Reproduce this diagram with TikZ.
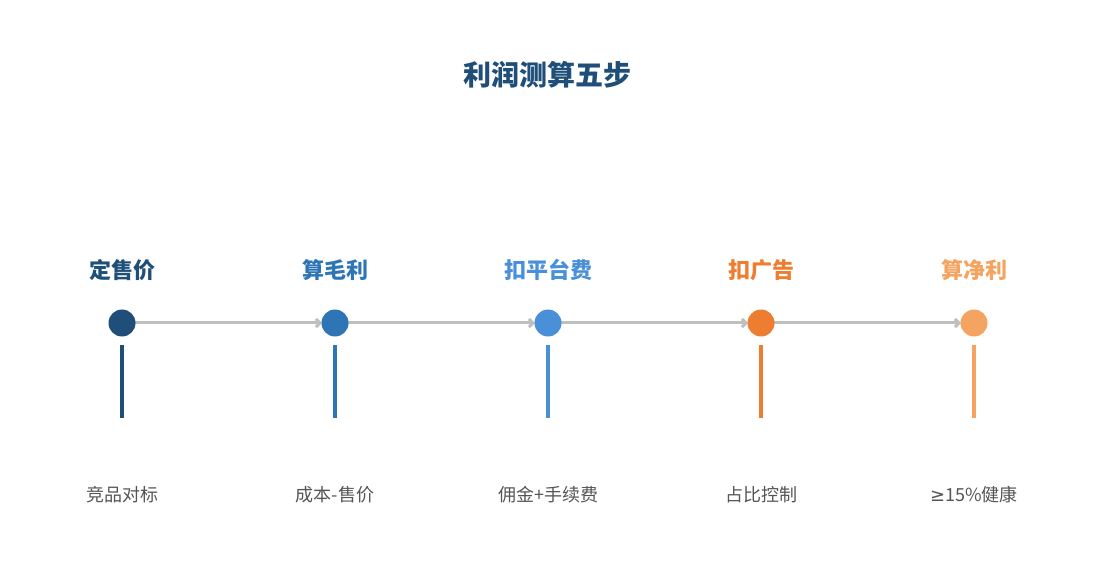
\documentclass[tikz,border=0pt]{standalone}
\usepackage{fontspec}
\setmainfont{Noto Sans CJK SC}
\newfontfamily\djv{DejaVu Sans}
\usetikzlibrary{arrows.meta}
\definecolor{c1}{HTML}{1F4E79}
\definecolor{c2}{HTML}{2E75B6}
\definecolor{c3}{HTML}{4A90D9}
\definecolor{c4}{HTML}{ED7D31}
\definecolor{c5}{HTML}{F4A460}
\definecolor{ln}{HTML}{BFBFBF}
\definecolor{tx}{HTML}{555555}
\begin{document}
\begin{tikzpicture}[x=1pt,y=-1pt,
  dot/.style={circle,fill=#1,minimum size=27pt,inner sep=0pt},
  head/.style={text=#1,font=\fontsize{22}{26}\selectfont\bfseries},
  lab/.style={text=tx,font=\fontsize{18}{22}\selectfont},
  stem/.style={draw=#1,line width=4pt},
  arr/.style={draw=ln,line width=3pt,-{Straight Barb[length=4pt,width=8pt]}}]
\useasboundingbox (0,0) rectangle (1095,585);
\node[text=c1,font=\fontsize{28}{32}\selectfont\bfseries] (t) at (547,75) {利润测算五步};
\foreach \i/\x/\h/\l in {1/122/定售价/竞品对标,2/335/算毛利/成本-售价,3/548/扣平台费/佣金+手续费,4/761/扣广告/占比控制,5/974/算净利/{{\djv ≥}15\%健康}}{
  \node[head=c\i] (h\i) at (\x,270) {\h};
  \coordinate (s\i) at (\x,345);
  \coordinate (e\i) at (\x,418);
  \draw[stem=c\i] (s\i) -- (e\i);
  \node[lab] (l\i) at (\x,495) {\l};
}
\foreach \i/\j in {1/2,2/3,3/4,4/5}{\path[arr] (\i*213-91,323) -- (\j*213-104,323);}
\foreach \i/\x in {1/122,2/335,3/548,4/761,5/974}{\node[dot=c\i] (d\i) at (\x,323) {};}
\end{tikzpicture}
\end{document}
